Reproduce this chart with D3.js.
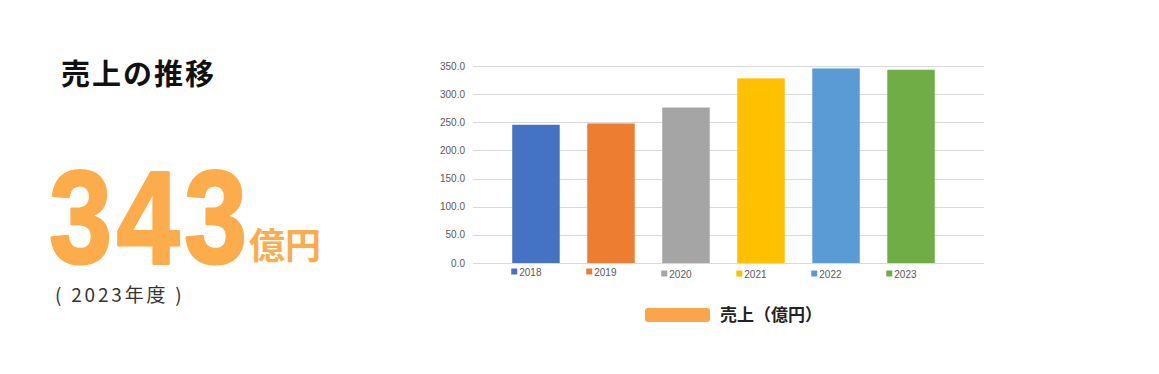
<!DOCTYPE html>
<html>
<head>
<meta charset="utf-8">
<script src="https://cdn.jsdelivr.net/npm/d3@7"></script>
<style>
  html, body { margin: 0; padding: 0; background: #fff; }
  text { font-family: "Noto Sans CJK JP", "Noto Sans", sans-serif; }
</style>
</head>
<body>
<div id="chart"></div>
<script>
// data
const years  = ["2018", "2019", "2020", "2021", "2022", "2023"];
const sales  = [245.6, 247.9, 276.2, 328.0, 345.7, 343.4];
const colors = ["#4472C4", "#ED7D31", "#A5A5A5", "#FFC000", "#5B9BD5", "#70AD47"];
const yTicks = [0, 50, 100, 150, 200, 250, 300, 350];

const w = 1159, h = 374;
const orange = "#FCAC4A";

const svg = d3.select("#chart").append("svg")
  .attr("width", w)
  .attr("height", h);

// ===== left side text =====
svg.append("text")
  .attr("x", 61).attr("y", 85)
  .attr("font-size", 29).attr("font-weight", 700)
  .attr("letter-spacing", 2)
  .attr("fill", "#111")
  .text("売上の推移");

// big number, one digit at a time so the gaps match
const bigDigits = sales[5].toFixed(0).split("");
svg.append("g")
  .selectAll("text")
  .data(bigDigits)
  .join("text")
    .attr("transform", (d, i) => `translate(${80.5 + i * 67.5},263) scale(0.86,1)`)
    .attr("text-anchor", "middle")
    .style("font-family", "'Liberation Sans', Arial, sans-serif")
    .attr("font-size", 131).attr("font-weight", 700)
    .attr("fill", orange).attr("stroke", orange).attr("stroke-width", 3)
    .attr("stroke-linejoin", "round")
    .text(d => d);

svg.append("text")
  .attr("x", 249).attr("y", 259)
  .attr("font-size", 36).attr("font-weight", 700)
  .attr("fill", orange)
  .text("億円");

svg.append("text")
  .attr("x", 55).attr("y", 302)
  .attr("font-size", 19)
  .attr("letter-spacing", 2.8)
  .attr("fill", "#333")
  .text("( 2023年度 )");

// ===== bar chart =====
const plot = { left: 473, right: 984, top: 66, bottom: 263 };

const x = d3.scaleBand()
  .domain(years)
  .range([498.5, 948.5])
  .paddingInner(0.367)
  .paddingOuter(0.183);

const y = d3.scaleLinear()
  .domain([0, 350])
  .range([plot.bottom, plot.top]);

// gridlines
svg.append("g")
  .selectAll("line")
  .data(yTicks)
  .join("line")
    .attr("x1", plot.left).attr("x2", plot.right)
    .attr("y1", d => Math.round(y(d)) + 0.5)
    .attr("y2", d => Math.round(y(d)) + 0.5)
    .attr("stroke", "#D9D9D9").attr("stroke-width", 1);

// y axis labels
svg.append("g")
  .selectAll("text")
  .data(yTicks)
  .join("text")
    .attr("x", 465)
    .attr("y", d => y(d) + 3.5)
    .attr("text-anchor", "end")
    .attr("font-size", 10)
    .style("font-family", "'Liberation Sans', Arial, sans-serif")
    .attr("fill", "#595959")
    .text(d => d.toFixed(1));

// bars
svg.append("g")
  .selectAll("rect")
  .data(years)
  .join("rect")
    .attr("x", d => x(d))
    .attr("width", x.bandwidth())
    .attr("y", (d, i) => y(sales[i]))
    .attr("height", (d, i) => y(0) - y(sales[i]))
    .attr("fill", (d, i) => colors[i]);

// series legend under each bar
const leg = svg.append("g")
  .selectAll("g")
  .data(years)
  .join("g")
    .attr("transform", (d, i) => `translate(${x(d) - 1},${i < 2 ? 272 : 274})`);

leg.append("rect")
  .attr("x", 0).attr("y", -3.5)
  .attr("width", 6).attr("height", 6)
  .attr("fill", (d, i) => colors[i]);

leg.append("text")
  .attr("x", 8).attr("y", 3.5)
  .attr("font-size", 10)
  .style("font-family", "'Liberation Sans', Arial, sans-serif")
  .attr("fill", "#595959")
  .text(d => d);

// bottom legend
svg.append("rect")
  .attr("x", 645).attr("y", 308)
  .attr("width", 65).attr("height", 14)
  .attr("rx", 3)
  .attr("fill", "#FBA54A");

svg.append("text")
  .attr("x", 720).attr("y", 321)
  .attr("font-size", 17).attr("font-weight", 700)
  .attr("fill", "#222")
  .text("売上（億円）");
</script>
</body>
</html>
